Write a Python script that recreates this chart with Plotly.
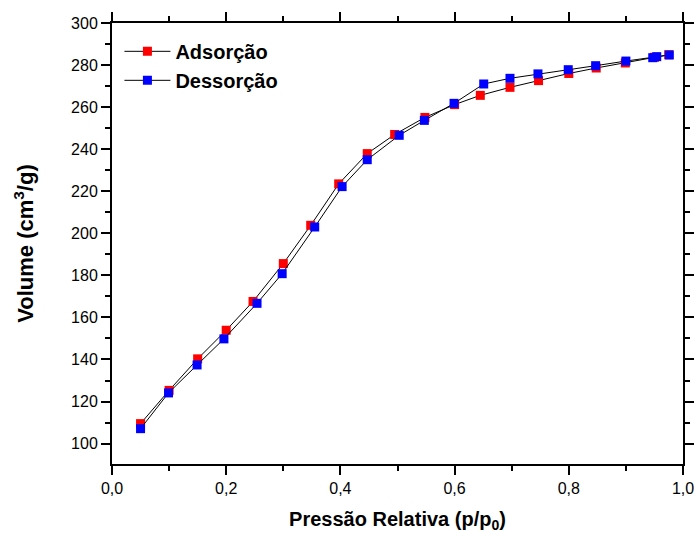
import plotly.graph_objects as go

# Adsorção (red)
ads_p = [0.05, 0.10, 0.15, 0.20, 0.247, 0.30, 0.348, 0.397, 0.447, 0.495, 0.548, 0.600,
         0.645, 0.697, 0.747, 0.800, 0.848, 0.899, 0.950, 0.975]
ads_v = [109.5, 125.3, 140.3, 153.9, 167.6, 185.6, 203.8, 223.5, 237.9, 247.0, 255.1, 261.2,
         265.6, 269.4, 272.6, 276.0, 278.6, 281.0, 283.7, 284.9]

# Dessorção (blue)
des_p = [0.976, 0.954, 0.947, 0.900, 0.847, 0.799, 0.746, 0.697, 0.651, 0.599, 0.547, 0.503,
         0.447, 0.403, 0.355, 0.298, 0.254, 0.196, 0.149, 0.099, 0.05]
des_v = [284.8, 284.0, 283.5, 281.9, 279.7, 277.8, 275.8, 273.7, 271.0, 261.8, 253.7, 246.6,
         235.0, 222.2, 203.0, 180.8, 166.7, 149.8, 137.4, 124.1, 107.1]

x_ticks = [0.0, 0.2, 0.4, 0.6, 0.8, 1.0]
y_ticks = [100, 120, 140, 160, 180, 200, 220, 240, 260, 280, 300]

font_family = "Liberation Sans, Arial, sans-serif"

fig = go.Figure()
fig.add_trace(go.Scatter(
    x=ads_p, y=ads_v, mode="lines+markers", name="Adsorção",
    line=dict(color="black", width=1),
    marker=dict(symbol="square", size=9, color="#ff0000", line=dict(width=0)),
))
fig.add_trace(go.Scatter(
    x=des_p, y=des_v, mode="lines+markers", name="Dessorção",
    line=dict(color="black", width=1),
    marker=dict(symbol="square", size=9, color="#0000ff", line=dict(width=0)),
))

axis_common = dict(
    showline=True, linecolor="black", linewidth=2, mirror="ticks",
    ticks="outside", ticklen=9, tickwidth=1.5, tickcolor="black",
    showgrid=False, zeroline=False, automargin=False,
    tickfont=dict(family=font_family, size=16, color="black"),
)

fig.update_xaxes(
    range=[0, 1.0], tickvals=x_ticks, tickformat=".1f",
    minor=dict(ticks="outside", ticklen=5, tickwidth=1.5, tickcolor="black", dtick=0.1, showgrid=False),
    title=dict(text="<b>Pressão Relativa (p/p<sub>0</sub>)</b>",
               font=dict(family=font_family, size=20, color="black"), standoff=16),
    **axis_common,
)
fig.update_yaxes(
    range=[90.3, 300], tickvals=y_ticks,
    minor=dict(ticks="outside", ticklen=5, tickwidth=1.5, tickcolor="black", dtick=10, showgrid=False),
    title=dict(text="<b>Volume (cm<sup>3</sup>/g)</b>",
               font=dict(family=font_family, size=22, color="black"), standoff=31),
    **axis_common,
)

fig.update_layout(
    width=698, height=536,
    margin=dict(l=112, r=15, t=23, b=72),
    paper_bgcolor="white", plot_bgcolor="white",
    separators=",.",
    font=dict(family=font_family, color="black"),
    legend=dict(
        x=0.013, y=0.98, xanchor="left", yanchor="top",
        bgcolor="rgba(0,0,0,0)", borderwidth=0,
        font=dict(family=font_family, size=20, color="black", weight="bold"),
        itemwidth=46, tracegroupgap=0,
    ),
)

fig.write_html("out.html")
